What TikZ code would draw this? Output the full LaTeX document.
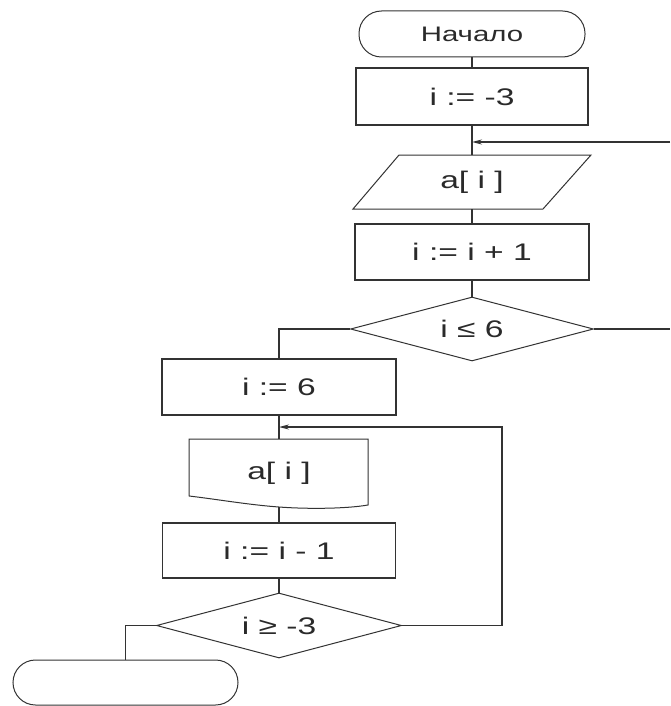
\documentclass[tikz,border=0pt]{standalone}
\usepackage{fontspec}
\setmainfont[FakeStretch=1.4]{Liberation Sans}
\usetikzlibrary{shapes.geometric,arrows.meta}
\definecolor{ln}{HTML}{333333}
\definecolor{tx}{HTML}{2A2A2A}
\begin{document}
\begin{tikzpicture}[x=1pt,y=-1pt,
  line/.style={draw=ln,line width=1.3pt},
  thinline/.style={draw=ln,line width=1pt},
  txt/.style={text=tx,font=\fontsize{24}{28}\selectfont,inner sep=0pt},
  box/.style={rectangle,line,txt},
  term/.style={rectangle,rounded corners=22.5pt,thinline,txt},
  dec/.style={diamond,thinline,txt,aspect=3.8},
  arr/.style={line,-{Stealth[length=10pt,width=5pt]}}]
\fill[white] (0,0) rectangle (670,706);
\useasboundingbox (0,0) rectangle (670,706);

% nodes
\node[term,minimum width=226pt,minimum height=46pt,font=\fontsize{21}{25}\selectfont] (start) at (472,34) {Начало};
\node[box,minimum width=232pt,minimum height=57pt] (b1) at (472,96.5) {i := -3};
\node[txt,minimum width=190pt,minimum height=54pt] (io) at (472,182) {a[ i ]};
\draw[thinline] (399,155) -- (591,155) -- (543,209) -- (353,209) -- cycle;
\node[box,minimum width=234pt,minimum height=56pt] (b2) at (472,252) {i := i + 1};
\node[dec,minimum width=243pt,minimum height=64pt] (d1) at (472,329) {i ≤ 6};
\node[box,minimum width=234pt,minimum height=56pt] (b3) at (279,387) {i := 6};
\node[txt,minimum width=178pt,minimum height=68pt] (doc) at (279,473) {a[ i ]};
\draw[thinline] (189,496) -- (189,439) -- (368,439) -- (368,505)
  .. controls (345,509) and (305,509) .. (279,507)
  .. controls (250,505) and (215,499) .. (189,496);
\node[box,minimum width=233pt,minimum height=55pt] (b4) at (279,550.5) {i := i - 1};
\node[dec,minimum width=245pt,minimum height=65pt] (d2) at (279,625.5) {i ≥ -3};
\node[term,minimum width=225pt,minimum height=45pt] (end) at (125.5,682.5) {};

% connectors
\coordinate (j1) at (670,142);
\coordinate (r1) at (670,329);
\coordinate (c2) at (502,427);
\coordinate (j2) at (279,427);
\draw[line] (start.south) -- (b1.north);
\draw[line] (b1.south) -- (io.north);
\draw[arr] (j1) -- (j1 -| b1.south);
\draw[line] (io.south) -- (b2.north);
\draw[line] (b2.south) -- (d1.north);
\draw[line] (d1.west) -| (b3.north);
\draw[line] (d1.east) -- (r1);
\draw[line] (b3.south) -- (doc.north);
\draw[line] (doc.south) -- (b4.north);
\draw[line] (b4.south) -- (d2.north);
\draw[arr] (d2.east) -| (c2) -- (j2);
\draw[line] (d2.west) -| (end.north);
\end{tikzpicture}
\end{document}
